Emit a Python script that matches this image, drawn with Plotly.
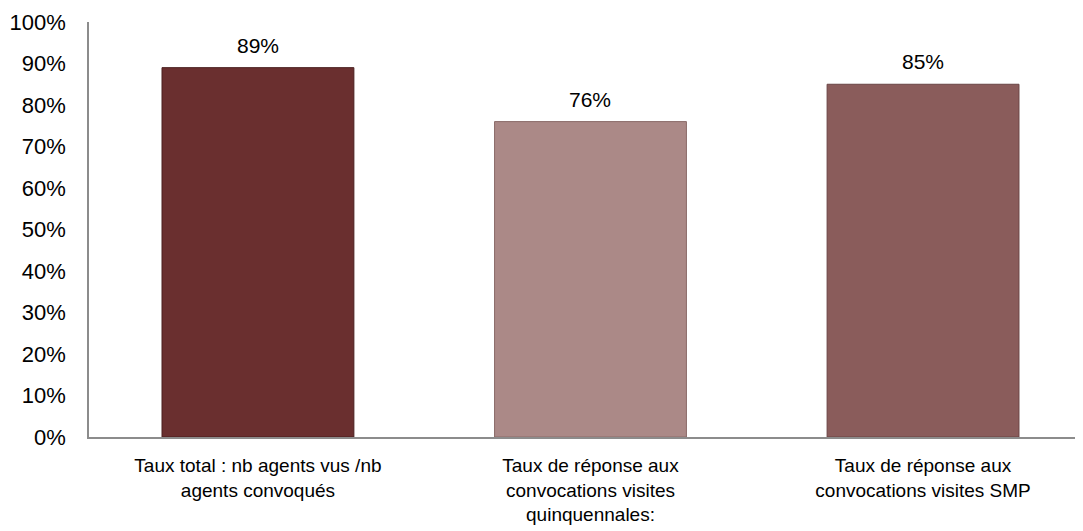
import plotly.graph_objects as go

categories = [
    "Taux total : nb agents vus /nb<br>agents convoqués",
    "Taux de réponse aux<br>convocations visites<br>quinquennales:",
    "Taux de réponse aux<br>convocations visites SMP",
]
values = [0.89, 0.76, 0.85]
labels = ["89%", "76%", "85%"]
bar_colors = ["#6a2f2f", "#ab8987", "#8a5c5b"]
edge_colors = ["#4a1f1f", "#8a6a68", "#6a4444"]
y_ticks = [0, 0.1, 0.2, 0.3, 0.4, 0.5, 0.6, 0.7, 0.8, 0.9, 1.0]

fig = go.Figure()
fig.add_trace(
    go.Bar(
        x=categories,
        y=values,
        width=0.577,
        marker={"color": bar_colors, "line": {"color": edge_colors, "width": 1}},
    )
)
# value labels sit a bit higher above the bars than plotly's own outside text
for cat, val, lab in zip(categories, values, labels):
    fig.add_annotation(
        x=cat, y=val, text=lab, showarrow=False, yanchor="bottom", yshift=9,
        font={"size": 21, "color": "#000000"},
    )

# page body keeps its 8px margin, so the figure is sized to fit inside the window
fig.update_layout(
    width=1075,
    height=523,
    template="plotly_white",
    plot_bgcolor="white",
    paper_bgcolor="white",
    showlegend=False,
    font={"family": "Liberation Sans, Arial, sans-serif", "size": 19, "color": "#000000"},
    margin={"l": 81, "r": 0, "t": 14, "b": 94},
    xaxis={
        "range": [-0.508, 2.481],
        "showgrid": False,
        "showline": True,
        "linecolor": "#8c8c8c",
        "linewidth": 2,
        "ticks": "",
        "ticklabelstandoff": 10,
        "tickfont": {"size": 19},
        "fixedrange": True,
    },
    yaxis={
        "range": [0, 1.0],
        "tickvals": y_ticks,
        "tickformat": ".0%",
        "showgrid": False,
        "zeroline": False,
        "showline": True,
        "linecolor": "#8c8c8c",
        "linewidth": 1.5,
        "ticks": "",
        "ticklabelstandoff": 17,
        "tickfont": {"size": 22},
        "fixedrange": True,
    },
)
fig.write_html("out.html")
